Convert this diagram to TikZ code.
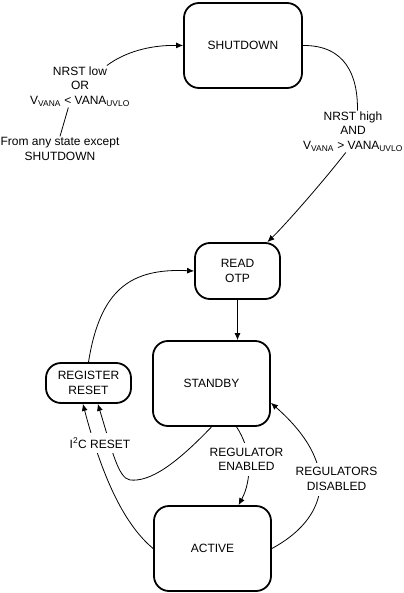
\documentclass[tikz,border=0pt]{standalone}
\usepackage{fontspec}
\setmainfont{Liberation Sans}
\usetikzlibrary{arrows.meta}
\begin{document}
\begin{tikzpicture}[x=1bp,y=-1bp,
  every node/.style={font=\fontsize{12bp}{14.5bp}\selectfont},
  state/.style={draw, line width=1.8bp, rounded corners=15bp, align=center, inner sep=0pt},
  lbl/.style={align=center, inner sep=1bp},
  cut/.style={align=center, fill=white, inner xsep=2bp, inner ysep=5bp},
  conn/.style={line width=0.8bp, -{Latex[length=7bp,width=6bp]}},
  plain/.style={line width=0.8bp}
]
\useasboundingbox (0,0) rectangle (403,593);

\node[state, minimum width=118bp, minimum height=85bp] (shut) at (243,45.5) {SHUTDOWN};
\node[state, minimum width=85bp, minimum height=56bp] (otp) at (237.5,271) {READ\\OTP};
\node[state, minimum width=117bp, minimum height=85bp] (stand) at (211.5,383.5) {STANDBY};
\node[state, minimum width=85bp, minimum height=40bp] (reg) at (88.5,383) {REGISTER\\RESET};
\node[state, minimum width=117bp, minimum height=85bp] (act) at (212.5,548.5) {ACTIVE};

\node[lbl] (lblA) at (80,86.5) {NRST low\\OR\\V\textsubscript{VANA} < VANA\textsubscript{UVLO}};
\node[lbl] (from) at (60,149) {From any state except\\SHUTDOWN};
\node[lbl] (lblB) at (353,131.5) {NRST high\\AND\\V\textsubscript{VANA} > VANA\textsubscript{UVLO}};

\draw[plain] (from.north) -- (lblA.241);
\draw[conn] (lblA.38) .. controls (125,52) and (150,45) .. (shut.west);
\draw[plain] (shut.east) .. controls (345,45) and (358,75) .. (lblB.78);
\draw[conn] (lblB.251) .. controls (322,183) and (285,225) .. (otp.44);
\draw[conn] (otp.south) -- (otp.south |- stand.north);
\draw[conn] (stand.south) .. controls (175,465) and (150,482) .. (130,480) .. controls (118,478) and (112,450) .. (reg.294);
\draw[conn] (act.west) .. controls (125,525) and (103,480) .. (reg.255);
\draw[conn] (stand.300) .. controls (252,450) and (252,480) .. (act.59);
\draw[conn] (act.east) .. controls (325,520) and (345,468) .. (stand.342);
\draw[conn] (reg.north) .. controls (100,290) and (130,268) .. (otp.west);

\node[cut] (i2c) at (100,443) {I\textsuperscript{2}C RESET};
\node[cut] (regen) at (246.5,459.5) {REGULATOR\\ENABLED};
\node[cut] (regdis) at (336.5,479) {REGULATORS\\DISABLED};
\end{tikzpicture}
\end{document}
